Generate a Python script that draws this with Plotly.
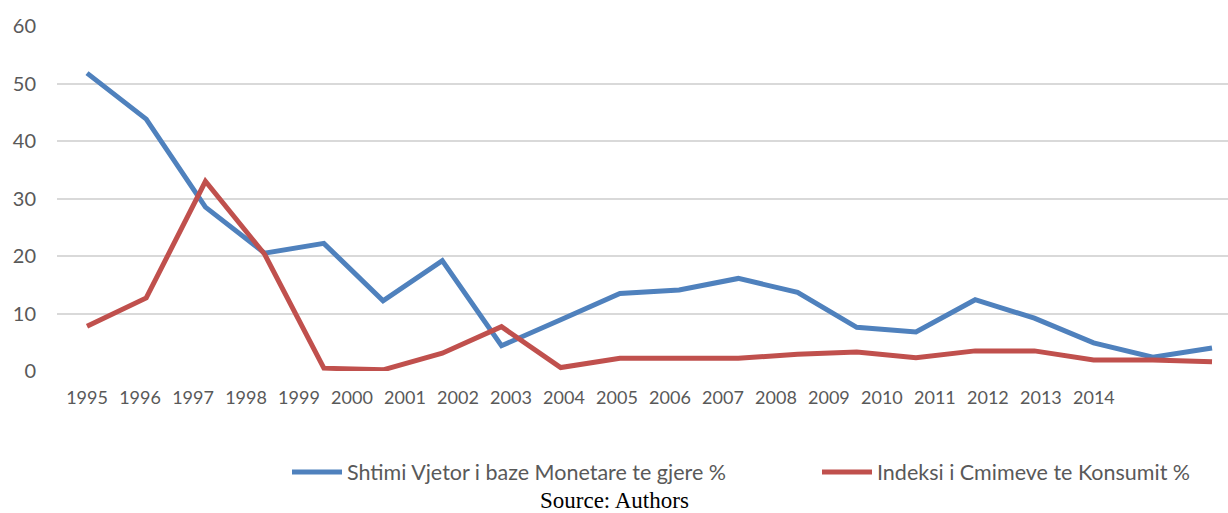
import plotly.graph_objects as go

# Annual series, 1995 onward
years = [str(y) for y in range(1995, 2015)]
base_money_growth = [51.8, 43.8, 28.5, 20.5, 22.2, 12.2, 19.2, 4.4, 8.9, 13.5,
                     14.1, 16.1, 13.7, 7.6, 6.8, 12.4, 9.2, 4.9, 2.4, 4.0]
cpi_inflation = [7.8, 12.7, 33.0, 20.3, 0.5, 0.2, 3.1, 7.7, 0.6, 2.2,
                 2.2, 2.2, 2.9, 3.3, 2.3, 3.5, 3.5, 1.9, 1.9, 1.6]

series_names = ["Shtimi Vjetor i baze Monetare te gjere %",
                "Indeksi i Cmimeve te Konsumit %"]

# Year labels sit on a tighter spacing than the plotted points
LABEL_STEP = 0.895

x_pts = list(range(len(base_money_growth)))

BLUE = "#4F81BD"
RED = "#C0504D"
TEXT = "#595959"
FONT = "Lato"
W, H = 1228, 513

fig = go.Figure()
fig.add_trace(go.Scatter(x=x_pts, y=base_money_growth, mode="lines",
                         name=series_names[0], legend="legend",
                         line=dict(color=BLUE, width=5)))
fig.add_trace(go.Scatter(x=x_pts, y=cpi_inflation, mode="lines",
                         name=series_names[1], legend="legend2",
                         line=dict(color=RED, width=5)))

legend_style = dict(orientation="h", xref="container", yref="container",
                    xanchor="left", yanchor="middle",
                    font=dict(family=FONT, size=21.5, color=TEXT),
                    itemwidth=50, bgcolor="rgba(0,0,0,0)")

fig.update_layout(
    width=W, height=H,
    margin=dict(l=57, r=0, t=26, b=142),
    paper_bgcolor="white", plot_bgcolor="white",
    font=dict(family=FONT, color=TEXT),
    showlegend=True,
    legend=dict(legend_style, x=287 / W, y=1 - 472 / H),
    legend2=dict(legend_style, x=817 / W, y=1 - 472 / H),
    xaxis=dict(range=[-0.507, 19.27],
               tickmode="array",
               tickvals=[i * LABEL_STEP for i in range(len(years))],
               ticktext=years,
               tickfont=dict(family=FONT, size=18, color=TEXT),
               showgrid=False, zeroline=False, showline=False,
               ticks="", ticklabelstandoff=14),
    yaxis=dict(range=[0, 60], tickmode="array",
               tickvals=[0, 10, 20, 30, 40, 50, 60],
               tickfont=dict(family=FONT, size=20, color=TEXT),
               showgrid=True, gridcolor="#D9D9D9", gridwidth=1.5,
               zeroline=False, showline=False, ticks="",
               ticklabelstandoff=20),
)

fig.add_annotation(text="Source: Authors", xref="paper", yref="paper",
                   x=(614 - 57) / (W - 57), y=-(500 - 371) / (371 - 26),
                   xanchor="center", yanchor="middle", showarrow=False,
                   font=dict(family="Liberation Serif", size=23, color="black"))

fig.write_html("out.html")
